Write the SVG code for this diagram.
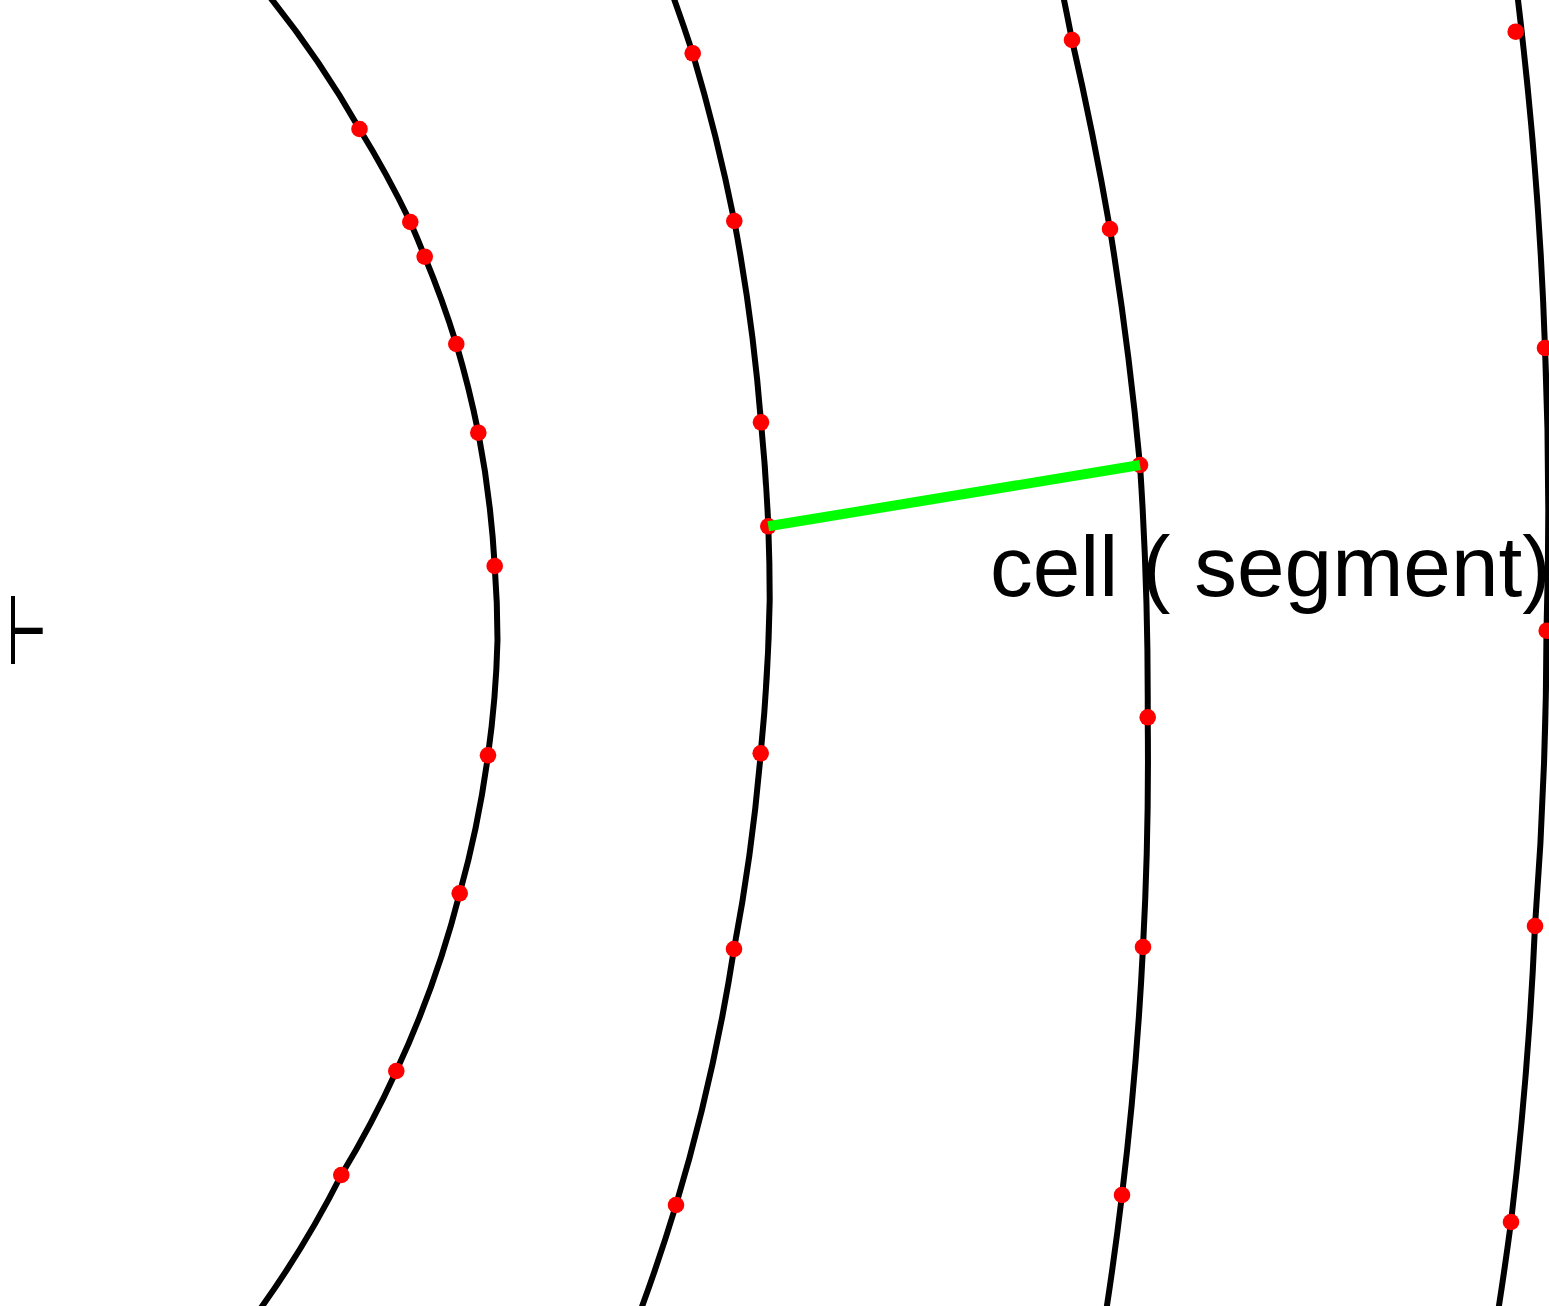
<svg xmlns="http://www.w3.org/2000/svg" width="1549" height="1306" viewBox="0 0 1549 1306">
<style>
.arc{fill:none;stroke:#000;stroke-width:6}
.dot{fill:#ff0000}
.seg{stroke:#00ff00;stroke-width:10;fill:none}
.lbl{font-family:"Liberation Sans",Arial,sans-serif;fill:#000}
.mk{fill:#000}
</style>
<rect width="1549" height="1306" fill="#fff"/>
<g id="connectors">
<path id="arc1" class="arc" d="M269,-4 A1005,1005 0 0 1 359.5,129 A1005,1005 0 0 1 410.3,222 A1005,1005 0 0 1 424.7,256.7 A1005,1005 0 0 1 456.3,344 A1005,1005 0 0 1 478.3,432.7 A1005,1005 0 0 1 494.7,566 A1005,1005 0 0 1 497.5,640 A1005,1005 0 0 1 488,755.3 A1005,1005 0 0 1 459.7,893.3 A1005,1005 0 0 1 396.3,1071 A1005,1005 0 0 1 341.3,1175 A1005,1005 0 0 1 258,1312"/>
<path id="arc2" class="arc" d="M673,-4 A1890,1890 0 0 1 692.7,53.3 A1890,1890 0 0 1 734.3,221 A1890,1890 0 0 1 761,422.3 A1890,1890 0 0 1 768.3,526.3 A1890,1890 0 0 1 769.7,600 A1890,1890 0 0 1 760.7,753.3 A1890,1890 0 0 1 734,949 A1890,1890 0 0 1 676,1205 A1890,1890 0 0 1 640,1312"/>
<path id="arc3" class="arc" d="M1063.2,-4 A3500,3500 0 0 1 1072,40 A3500,3500 0 0 1 1110,229 A3500,3500 0 0 1 1140,465 A3500,3500 0 0 1 1147.7,717.3 A3500,3500 0 0 1 1143,947 A3500,3500 0 0 1 1122,1195 A3500,3500 0 0 1 1106,1312"/>
<path id="arc4" class="arc" d="M1517.5,-4 A4000,4000 0 0 1 1545,348 A4000,4000 0 0 1 1546.5,630 A4000,4000 0 0 1 1535,926 A4000,4000 0 0 1 1511,1222 A4000,4000 0 0 1 1498,1312"/>
</g>
<g id="dots">
<circle class="dot" cx="359.5" cy="129" r="8.3"/>
<circle class="dot" cx="410.3" cy="222" r="8.3"/>
<circle class="dot" cx="424.7" cy="256.7" r="8.3"/>
<circle class="dot" cx="456.3" cy="344" r="8.3"/>
<circle class="dot" cx="478.3" cy="432.7" r="8.3"/>
<circle class="dot" cx="494.7" cy="566" r="8.3"/>
<circle class="dot" cx="488" cy="755.3" r="8.3"/>
<circle class="dot" cx="459.7" cy="893.3" r="8.3"/>
<circle class="dot" cx="396.3" cy="1071" r="8.3"/>
<circle class="dot" cx="341.3" cy="1175" r="8.3"/>
<circle class="dot" cx="692.7" cy="53.3" r="8.3"/>
<circle class="dot" cx="734.3" cy="221" r="8.3"/>
<circle class="dot" cx="761" cy="422.3" r="8.3"/>
<circle class="dot" cx="768.3" cy="526.3" r="8.3"/>
<circle class="dot" cx="760.7" cy="753.3" r="8.3"/>
<circle class="dot" cx="734" cy="949" r="8.3"/>
<circle class="dot" cx="676" cy="1205" r="8.3"/>
<circle class="dot" cx="1072" cy="40" r="8.3"/>
<circle class="dot" cx="1110" cy="229" r="8.3"/>
<circle class="dot" cx="1140" cy="465" r="8.3"/>
<circle class="dot" cx="1147.7" cy="717.3" r="8.3"/>
<circle class="dot" cx="1143" cy="947" r="8.3"/>
<circle class="dot" cx="1122" cy="1195" r="8.3"/>
<circle class="dot" cx="1515.7" cy="31.7" r="8.3"/>
<circle class="dot" cx="1545" cy="348" r="8.3"/>
<circle class="dot" cx="1546.7" cy="630.7" r="8.3"/>
<circle class="dot" cx="1535" cy="926" r="8.3"/>
<circle class="dot" cx="1511" cy="1222" r="8.3"/>
</g>
<g id="cell">
<line class="seg" x1="768.3" y1="526.3" x2="1140" y2="465"/>
<text class="lbl" x="990" y="596" font-size="85.5">cell ( segment)</text>
</g>
<g id="mark">
<rect class="mk" x="11" y="596" width="4" height="68"/>
<rect class="mk" x="15" y="627.7" width="27.7" height="6.3"/>
</g>
</svg>
